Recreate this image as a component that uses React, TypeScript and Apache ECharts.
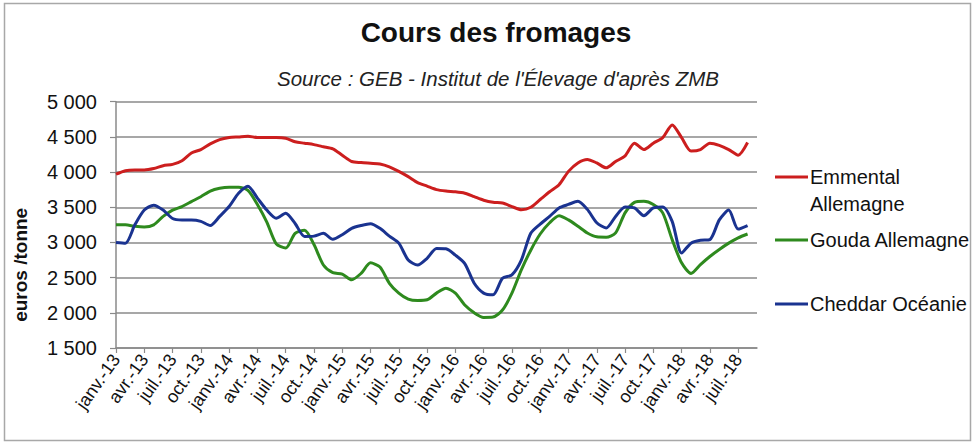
import React, { useEffect, useRef } from "react";
import * as echarts from "echarts";

const monthNames = ["janv.", "févr.", "mars", "avr.", "mai", "juin", "juil.", "août", "sept.", "oct.", "nov.", "déc."];
// Monthly categories, Jan 2013 .. Sep 2018
const categories: string[] = [];
for (let y = 13; y <= 18; y++) {
  for (let m = 0; m < 12; m++) {
    if (y === 18 && m > 8) break;
    categories.push(`${monthNames[m]}-${y}`);
  }
}

const yTicks = [1500, 2000, 2500, 3000, 3500, 4000, 4500, 5000];

const emmental = [
  3970, 4020, 4030, 4030, 4050, 4090, 4110, 4160, 4270, 4320, 4400, 4460,
  4490, 4500, 4510, 4490, 4490, 4490, 4480, 4430, 4410, 4390, 4360, 4330,
  4240, 4150, 4135, 4125, 4115, 4075, 4010, 3935, 3850, 3800, 3750, 3730,
  3720, 3700, 3650, 3600, 3570, 3560, 3510, 3465, 3500, 3610, 3720, 3820,
  4010, 4130, 4180, 4130, 4060, 4150, 4230, 4410, 4320, 4410, 4490, 4670,
  4490, 4300, 4320, 4410, 4380, 4320, 4240, 4420,
];

const gouda = [
  3250, 3250, 3230, 3220, 3250, 3370, 3460, 3510, 3580, 3650, 3730, 3770,
  3785, 3785, 3740, 3540, 3290, 2980, 2920, 3130, 3175, 2970, 2680, 2570,
  2550, 2470, 2560, 2710, 2650, 2420, 2280, 2195, 2175, 2185, 2280, 2350,
  2280, 2110, 2000, 1935, 1940, 2040, 2280, 2610, 2890, 3120, 3280, 3380,
  3320, 3230, 3135, 3080, 3075, 3135, 3420, 3570, 3585, 3540, 3420, 3040,
  2710, 2560, 2685, 2800, 2900, 2990, 3065, 3120,
];

const cheddar = [
  3000, 2990, 3250, 3460, 3530, 3460, 3340, 3320, 3320, 3300, 3240, 3370,
  3510, 3700, 3800, 3630, 3460, 3345, 3415, 3270, 3085, 3090, 3130, 3045,
  3110, 3200, 3240, 3265, 3200, 3090, 2990, 2750, 2680, 2775, 2915, 2910,
  2820, 2700, 2420, 2280, 2255, 2490, 2540, 2750, 3130, 3260, 3370, 3490,
  3540, 3585, 3470, 3280, 3205, 3370, 3505, 3490, 3380, 3490, 3505, 3300,
  2850, 2990, 3030, 3040, 3320, 3460, 3190, 3240,
];

const seriesNames = ["Emmental Allemagne", "Gouda Allemagne", "Cheddar Océanie"];
const seriesColors = ["#CC1E1E", "#2E8A1E", "#1A3390"];

const fmtThousands = (v: number) => {
  const s = String(Math.round(v));
  return s.length > 3 ? s.slice(0, s.length - 3) + " " + s.slice(s.length - 3) : s;
};

const FONT = "Liberation Sans, Arial, sans-serif";

export default function App() {
  const ref = useRef<HTMLDivElement>(null);
  useEffect(() => {
    if (!ref.current) return;
    const chart = echarts.init(ref.current, undefined, { renderer: "svg" });
    const legendText = { fontFamily: FONT, fontSize: 20, color: "#111", padding: [0, 0, 0, -3] };
    const legendBase = {
      orient: "vertical" as const,
      left: 775,
      padding: 0,
      itemWidth: 33,
      itemHeight: 3,
      itemGap: 0,
      icon: "rect",
    };
    chart.setOption({
      animation: false,
      backgroundColor: "#ffffff",
      textStyle: { fontFamily: FONT },
      title: [
        {
          text: "Cours des fromages",
          left: 491,
          textAlign: "center",
          top: 13,
          textStyle: { fontFamily: FONT, fontSize: 28, fontWeight: "bold", color: "#111" },
        },
        {
          text: "Source : GEB - Institut de l'Élevage d'après ZMB",
          left: 493,
          textAlign: "center",
          top: 63,
          textStyle: { fontFamily: FONT, fontSize: 20.5, fontStyle: "italic", fontWeight: "normal", color: "#222" },
        },
      ],
      legend: [
        {
          ...legendBase,
          top: 136.5,
          data: [{ name: seriesNames[0], itemStyle: { color: seriesColors[0] } }],
          formatter: () => " \nEmmental\nAllemagne",
          textStyle: { ...legendText, lineHeight: 27 },
        },
        {
          ...legendBase,
          top: 230,
          data: [{ name: seriesNames[1], itemStyle: { color: seriesColors[1] } }],
          textStyle: legendText,
        },
        {
          ...legendBase,
          top: 294,
          data: [{ name: seriesNames[2], itemStyle: { color: seriesColors[2] } }],
          textStyle: legendText,
        },
      ],
      grid: { left: 116, right: 217, top: 101.7, bottom: 95, containLabel: false },
      xAxis: {
        type: "category",
        data: categories,
        boundaryGap: false,
        axisLine: { lineStyle: { color: "#8a8a8a", width: 1.5 } },
        axisTick: { interval: 2, length: 5, lineStyle: { color: "#8a8a8a", width: 1.2 } },
        axisLabel: {
          interval: 2,
          rotate: 55,
          margin: 8,
          fontFamily: FONT,
          fontSize: 18,
          color: "#111",
        },
        splitLine: { show: false },
      },
      yAxis: {
        type: "value",
        min: yTicks[0],
        max: yTicks[yTicks.length - 1],
        interval: 500,
        name: "euros /tonne",
        nameLocation: "middle",
        nameGap: 86,
        nameTextStyle: {
          fontFamily: FONT,
          fontSize: 19,
          fontWeight: "bold",
          color: "#111",
          padding: [0, 80, 0, 0],
        },
        axisLine: { show: true, lineStyle: { color: "#8a8a8a", width: 1.5 } },
        axisTick: { show: true, length: 6, lineStyle: { color: "#8a8a8a", width: 1.2 } },
        axisLabel: {
          margin: 19,
          fontFamily: FONT,
          fontSize: 20,
          color: "#111",
          formatter: (v: number) => fmtThousands(v),
        },
        splitLine: { show: true, lineStyle: { color: "#8a8a8a", width: 1.6 } },
      },
      series: [
        { name: seriesNames[0], type: "line", data: emmental, color: seriesColors[0] },
        { name: seriesNames[1], type: "line", data: gouda, color: seriesColors[1] },
        { name: seriesNames[2], type: "line", data: cheddar, color: seriesColors[2] },
      ].map((s) => ({
        ...s,
        showSymbol: false,
        symbol: "none",
        smooth: 0.25,
        lineStyle: { width: 3, color: s.color },
        itemStyle: { color: s.color },
      })),
      graphic: [
        {
          type: "rect",
          shape: { x: 4.5, y: 3.5, width: 966, height: 437 },
          style: { fill: "none", stroke: "#a8a8a8", lineWidth: 1.5 },
          silent: true,
          z: -10,
        },
      ],
    });
    return () => chart.dispose();
  }, []);
  return (
    <div
      ref={ref}
      style={{ position: "fixed", left: 0, top: 0, width: 974, height: 443 }}
    />
  );
}
